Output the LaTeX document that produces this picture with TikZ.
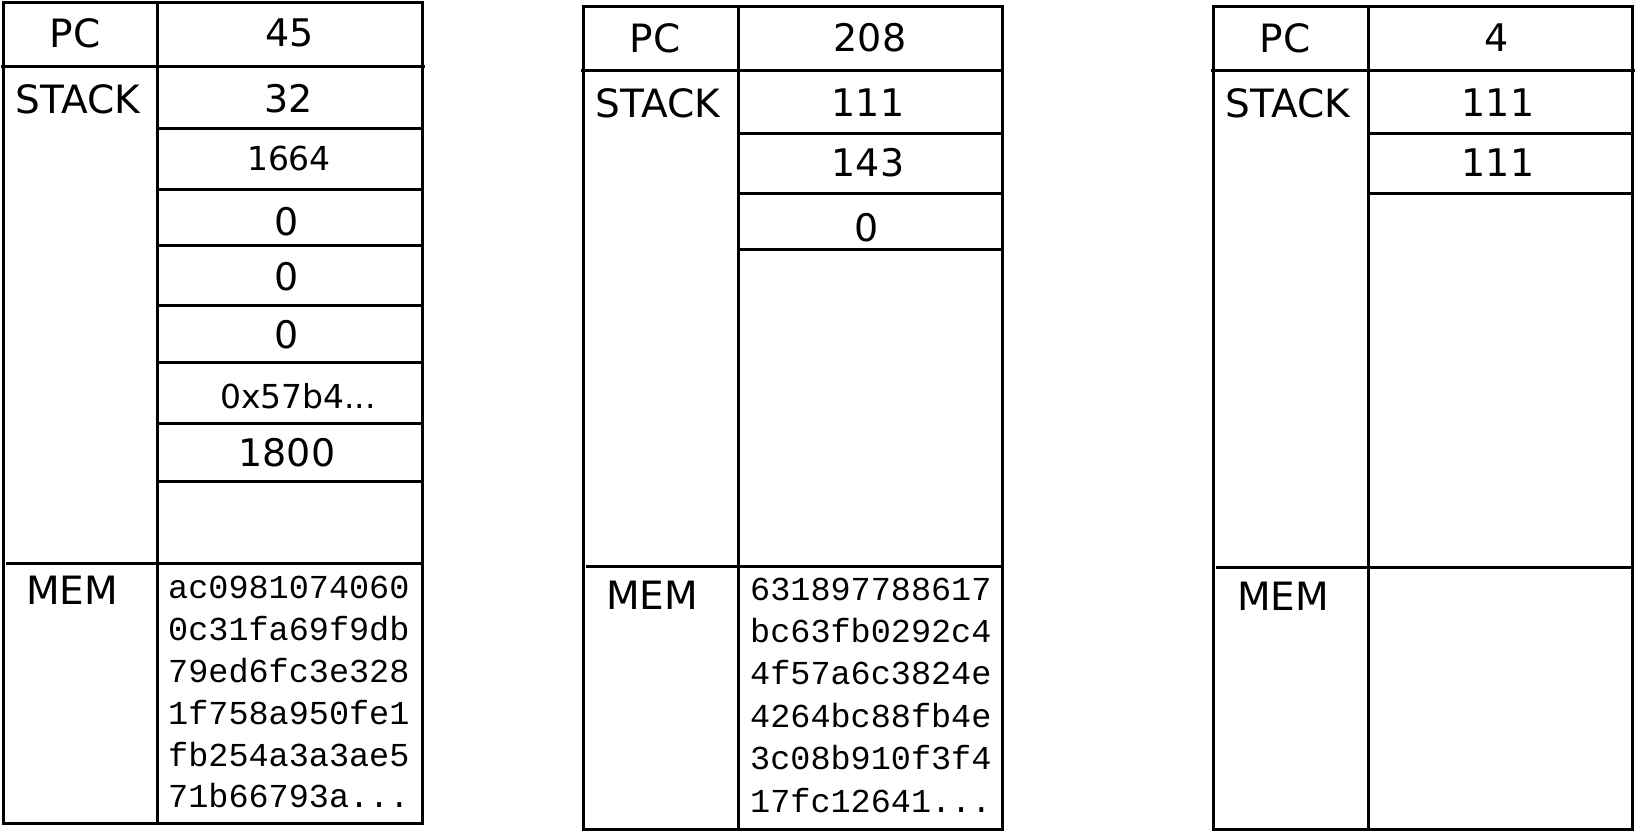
\documentclass[tikz,border=0pt]{standalone}
\usepackage{fontspec}
\setmainfont{DejaVu Sans}
\newfontfamily\memfont{Liberation Mono}
\usepackage{tikz}
\newcommand\memdots{...}

\begin{document}
\begin{tikzpicture}
[%%%%%%%%%%%%%%%%%%%%%%%%%%%%%%
x=1pt,y=-1pt,
frame/.style={line width=3pt},
lbl/.style={font=\fontsize{39}{47}\selectfont, inner sep=0pt},
val/.style={font=\fontsize{38}{46}\selectfont, inner sep=0pt},
smallval/.style={font=\fontsize{33}{40}\selectfont, inner sep=0pt},
memline/.style={font=\memfont\fontsize{33.5}{40}\selectfont, inner sep=0pt, anchor=base west},
]%%%%%%%%%%%%%%%%%%%%%%%%%%%%%%

\useasboundingbox (0,0) rectangle (1635,831);

% first state
\draw[frame] (3,2) rectangle (422,823);
\draw[frame] (157,2) -- (157,823);
\draw[frame] (1,66) -- (425,66);
\draw[frame] (6,563) -- (422,563);
\foreach \y in {128,189,245,305,362,423,481}
\draw[frame] (157,\y) -- (422,\y);

\node[lbl] (pcA) at (75,33) {PC};
\node[val] (pcvalA) at (290,33) {45};
\node[lbl] (stackA) at (78,99) {STACK};
\node[val] (sA1) at (289,99) {32};
\node[smallval] (sA2) at (289,158) {1664};
\node[val] (sA3) at (287,222) {0};
\node[val] (sA4) at (287,277) {0};
\node[val] (sA5) at (287,335) {0};
\node[smallval] (sA6) at (298,396) {0x57b4...};
\node[val] (sA7) at (287,453) {1800};
\node[lbl] (memA) at (72,590) {MEM};
\foreach \t [count=\i] in {ac0981074060,0c31fa69f9db,79ed6fc3e328,1f758a950fe1,fb254a3a3ae5,71b66793a\memdots}
\node[memline] (memA\i) at (168,557+41.8*\i) {\t};

% second state
\draw[frame] (583,6) rectangle (1002,829);
\draw[frame] (738,6) -- (738,829);
\draw[frame] (581,70) -- (1004,70);
\draw[frame] (586,566) -- (1002,566);
\foreach \y in {133,193,249}
\draw[frame] (738,\y) -- (1002,\y);

\node[lbl] (pcB) at (655,38) {PC};
\node[val] (pcvalB) at (870,38) {208};
\node[lbl] (stackB) at (658,103) {STACK};
\node[val] (sB1) at (868,103) {111};
\node[val] (sB2) at (868,163) {143};
\node[val] (sB3) at (867,228) {0};
\node[lbl] (memB) at (652,595) {MEM};
\foreach \t [count=\i] in {631897788617,bc63fb0292c4,4f57a6c3824e,4264bc88fb4e,3c08b910f3f4,17fc12641\memdots}
\node[memline] (memB\i) at (750,557.6+42.4*\i) {\t};

% third state
\draw[frame] (1213,6) rectangle (1632,829);
\draw[frame] (1368,6) -- (1368,829);
\draw[frame] (1211,70) -- (1635,70);
\draw[frame] (1216,567) -- (1632,567);
\foreach \y in {133,193}
\draw[frame] (1368,\y) -- (1632,\y);

\node[lbl] (pcC) at (1285,38) {PC};
\node[val] (pcvalC) at (1497,38) {4};
\node[lbl] (stackC) at (1288,103) {STACK};
\node[val] (sC1) at (1498,103) {111};
\node[val] (sC2) at (1498,163) {111};
\node[lbl] (memC) at (1283,596) {MEM};
\end{tikzpicture}
\end{document}
